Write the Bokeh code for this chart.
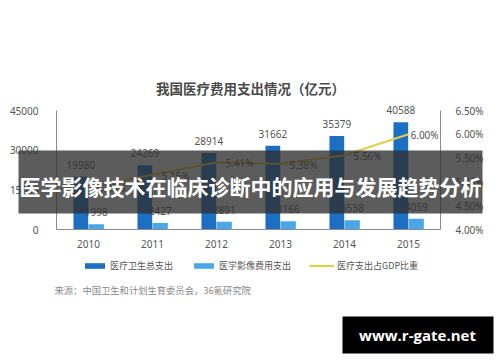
from bokeh.plotting import figure
from bokeh.models import (ColumnDataSource, Range1d, LinearAxis, FixedTicker,
                          PrintfTickFormatter, Legend, LegendItem, BoxAnnotation, Label)
from bokeh.transform import dodge
from bokeh.core.properties import value
from bokeh.embed import file_html
from bokeh.resources import INLINE

# ---- data ----
years = [2010, 2011, 2012, 2013, 2014, 2015]
total_spend = [19980, 24269, 28914, 31662, 35379, 40588]
imaging_spend = [1998, 2427, 2891, 3166, 3538, 4059]
gdp_ratio = [4.89, 5.15, 5.41, 5.38, 5.56, 6.00]
left_ticks = [0, 15000, 30000, 45000]
right_ticks = [4.0, 4.5, 5.0, 5.5, 6.0, 6.5]
legend_names = ["医疗卫生总支出", "医学影像费用支出", "医疗支出占GDP比重"]
title_text = "我国医疗费用支出情况（亿元）"
source_text = "来源：中国卫生和计划生育委员会，36氪研究院"
banner_text = "医学影像技术在临床诊断中的应用与发展趋势分析"
watermark_text = "www.r-gate.net"

# ---- styles ----
DARK = "#1c6fc2"
LIGHT = "#4aa6e6"
YELLOW = "#e2cf48"
TXT = "#555555"
CJK = "Noto Sans CJK SC"
W, H = 500, 362

src = ColumnDataSource(dict(
    year=years, total=total_spend, imaging=imaging_spend, ratio=gdp_ratio,
    total_lbl=[str(v) for v in total_spend],
    imaging_lbl=[str(v) for v in imaging_spend],
    ratio_lbl=["%.2f%%" % v for v in gdp_ratio],
    dx=[9, 9, 9, 9, 9, 2],
))

# scale geometry (pixels): axis frame 56..440 x, 110..229 y
PX_YEAR = 64.0
X2010_PX = 88.0
Y0_PX, YTOP_PX = 229.0, 110.0
ax_h = Y0_PX - YTOP_PX
x_start = 2010 - X2010_PX / PX_YEAR
x_end = x_start + W / PX_YEAR
y_start = -(H - Y0_PX) * 45000 / ax_h
y_end = Y0_PX * 45000 / ax_h
r_start = 4.0 - (H - Y0_PX) * 2.5 / ax_h
r_end = 4.0 + Y0_PX * 2.5 / ax_h

p = figure(width=W, height=H, output_backend="svg", toolbar_location=None,
           x_range=Range1d(x_start, x_end), y_range=Range1d(y_start, y_end),
           min_border=0, outline_line_color=None,
           background_fill_color="white", border_fill_color="white",
           x_axis_type=None, y_axis_type=None)
p.title.visible = False
p.extra_y_ranges = {"pct": Range1d(r_start, r_end)}

# axes (fixed inside the frame)
xa = LinearAxis(ticker=FixedTicker(ticks=years), fixed_location=0,
                bounds=(2009.5, 2015.5))
ya = LinearAxis(ticker=FixedTicker(ticks=left_ticks), fixed_location=2009.5,
                bounds=(0, 45000))
ra = LinearAxis(y_range_name="pct", ticker=FixedTicker(ticks=right_ticks),
                formatter=PrintfTickFormatter(format="%.2f%%"), bounds=(4.0, 6.5),
                fixed_location=2015.5)
p.add_layout(xa, "below")
p.add_layout(ya, "left")
p.add_layout(ra, "right")
for ax in [xa, ya, ra]:
    ax.axis_line_color = "#8c8c8c"
    ax.axis_line_width = 1
    ax.major_tick_line_color = None
    ax.minor_tick_line_color = None
    ax.major_label_text_color = TXT
    ax.major_label_text_font = "Noto Sans"
    ax.major_label_text_font_size = "10px"
ya.major_label_standoff = 12
ra.major_label_standoff = 9
xa.major_label_standoff = 4

# bars
r_dark = p.vbar(x=dodge("year", -0.12, range=p.x_range), top="total", width=0.23,
                source=src, fill_color=DARK, line_color=None)
r_light = p.vbar(x=dodge("year", 0.12, range=p.x_range), top="imaging", width=0.24,
                 source=src, fill_color=LIGHT, line_color=None)
for col, d in [("total", -0.12), ("imaging", 0.12)]:
    p.text(x=dodge("year", d, range=p.x_range), y=col, text=col + "_lbl", source=src,
           text_align="center", text_baseline="middle", y_offset=-12,
           text_font=value("Noto Sans"), text_font_size="10px", text_color=TXT)

# line
r_line = p.line(x="year", y="ratio", source=src, y_range_name="pct",
                line_color=YELLOW, line_width=2.2)
p.text(x="year", y="ratio", text="ratio_lbl", source=src, y_range_name="pct",
       x_offset="dx", y_offset=1, text_align="left", text_baseline="middle",
       text_font=value("Noto Sans"), text_font_size="10px", text_color=TXT)

# legend
legend = Legend(items=[LegendItem(label=legend_names[0], renderers=[r_dark]),
                       LegendItem(label=legend_names[1], renderers=[r_light]),
                       LegendItem(label=legend_names[2], renderers=[r_line])],
                orientation="horizontal", location=(82, H - 272),
                glyph_width=25, glyph_height=7, label_height=14,
                label_standoff=3, spacing=18, padding=0, margin=0,
                border_line_color=None, background_fill_alpha=0,
                label_text_font=CJK, label_text_font_size="9px",
                label_text_color=TXT)
p.add_layout(legend)

def sy(y_px):
    return H - y_px

# title and source
p.add_layout(Label(x=250, y=sy(87), x_units="screen", y_units="screen", text=title_text,
                   text_align="center", text_baseline="middle", text_font=CJK,
                   text_font_style="bold", text_font_size="13.5px", text_color="#4a4a4a"))
p.add_layout(Label(x=54, y=sy(289), x_units="screen", y_units="screen", text=source_text,
                   text_align="left", text_baseline="middle", text_font=CJK,
                   text_font_size="9.3px", text_color="#8a8a8a"))

# banner overlay
p.add_layout(BoxAnnotation(left=18, right=482, bottom=sy(213), top=sy(150),
                           left_units="screen", right_units="screen",
                           bottom_units="screen", top_units="screen",
                           fill_color="#2e2e2e", fill_alpha=0.78, line_color=None,
                           level="overlay"))
p.add_layout(Label(x=250, y=sy(185), x_units="screen", y_units="screen", text=banner_text,
                   text_align="center", text_baseline="middle", text_font=CJK,
                   text_font_style="bold", text_font_size="21px", text_color="white",
                   level="overlay"))

# watermark
p.add_layout(BoxAnnotation(left=342, right=493, bottom=sy(353), top=sy(316),
                           left_units="screen", right_units="screen",
                           bottom_units="screen", top_units="screen",
                           fill_color="black", fill_alpha=1.0, line_color=None,
                           level="overlay"))
p.add_layout(Label(x=417, y=sy(334), x_units="screen", y_units="screen", text=watermark_text,
                   text_align="center", text_baseline="middle", text_font="Open Sans",
                   text_font_style="bold", text_font_size="15px", text_color="white",
                   level="overlay"))

open("out.html", "w").write(file_html(p, INLINE))
